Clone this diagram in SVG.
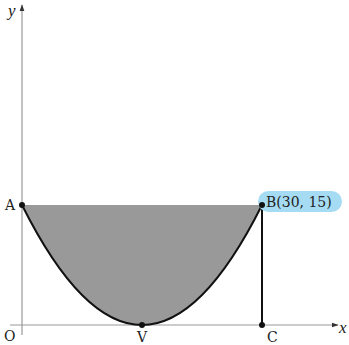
<svg xmlns="http://www.w3.org/2000/svg" width="349" height="345" viewBox="0 0 349 345">
<style>
.axis{stroke:#999;stroke-width:1.2;fill:none}
.lbl{font-family:"DejaVu Serif","Liberation Serif",serif;font-size:14px;fill:#222}
.it{font-family:"Liberation Serif",serif;font-style:italic;font-size:17px}
.dot{fill:#111}
</style>
<defs>
<marker id="ah" viewBox="0 0 10 10" refX="9" refY="5" markerWidth="7" markerHeight="7" orient="auto" markerUnits="userSpaceOnUse"><path d="M0,1.5 L10,5 L0,8.5 Z" fill="#333"/></marker>
</defs>
<rect width="349" height="345" fill="#fff"/>
<g id="region">
<path d="M22,205 Q142,445 262,205 Z" fill="#999"/>
</g>
<g id="connectors">
<line class="axis" x1="22" y1="335" x2="22" y2="5" marker-end="url(#ah)"/>
<line class="axis" x1="10" y1="325" x2="338" y2="325" marker-end="url(#ah)"/>
<path d="M22,205 Q142,445 262,205" fill="none" stroke="#111" stroke-width="2"/>
<line x1="262" y1="205" x2="262" y2="325" stroke="#111" stroke-width="2"/>
</g>
<g id="A"><circle class="dot" cx="22" cy="205" r="3"/><text class="lbl" x="5" y="210">A</text></g>
<g id="B"><rect x="258" y="191" width="84" height="21" rx="10.5" fill="#a6dcf3"/><circle class="dot" cx="262" cy="205" r="3"/><text class="lbl" x="266" y="207">B(30, 15)</text></g>
<g id="O"><text class="lbl" x="4" y="341">O</text></g>
<g id="V"><circle class="dot" cx="142" cy="325" r="3"/><text class="lbl" x="137" y="342">V</text></g>
<g id="C"><circle class="dot" cx="262" cy="325" r="3"/><text class="lbl" x="267" y="342">C</text></g>
<g id="ylbl"><text class="lbl it" x="8" y="16">y</text></g>
<g id="xlbl"><text class="lbl it" x="339" y="333">x</text></g>
</svg>
